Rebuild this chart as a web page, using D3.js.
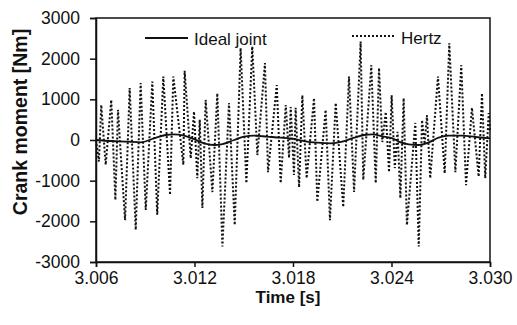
<!DOCTYPE html>
<html><head><meta charset="utf-8">
<script src="https://cdn.jsdelivr.net/npm/d3@7"></script>
<style>
body{margin:0;background:#fff}
svg{display:block}
text{font-family:"Liberation Sans",Arial,Helvetica,sans-serif;fill:#111}
</style>
</head><body>
<svg id="c" width="517" height="325"></svg>
<script>
// ---- data ----
const xTicks = [3.006, 3.012, 3.018, 3.024, 3.030];
const yTicks = [-3000, -2000, -1000, 0, 1000, 2000, 3000];
const seriesNames = ["Ideal joint", "Hertz"];

const idealTime = [3.00600,3.00690,3.00791,3.00872,3.00953,3.01025,3.01075,3.01136,3.01197,3.01258,3.01319,3.01370,3.01441,3.01502,3.01562,3.01643,3.01725,3.01806,3.01867,3.01948,3.02030,3.02100,3.02172,3.02232,3.02283,3.02354,3.02415,3.02444,3.02505,3.02566,3.02627,3.02687,3.02748,3.02829,3.02911,3.03000];
const idealMoment = [0,-25,-40,-57,40,123,140,107,20,-82,-123,-100,0,82,107,82,57,25,-25,-65,-82,-40,57,123,140,82,25,-40,-107,-123,-57,57,107,107,74,40];

const hertzTime = [3.00600,3.00618,3.00632,3.00659,3.00693,3.00718,3.00734,3.00750,3.00777,3.00805,3.00842,3.00872,3.00903,3.00943,3.00973,3.01010,3.01051,3.01071,3.01132,3.01140,3.01177,3.01197,
 3.01217,3.01232,3.01248,3.01268,3.01309,3.01339,3.01370,3.01410,3.01445,3.01481,3.01516,3.01552,3.01583,3.01629,3.01648,3.01701,3.01725,3.01756,3.01776,3.01786,3.01806,
 3.01816,3.01837,3.01857,3.01883,3.01928,3.01948,3.01999,3.02025,3.02060,3.02106,3.02141,3.02172,3.02212,3.02228,3.02277,3.02304,3.02324,3.02344,3.02365,3.02385,3.02401,
 3.02420,3.02437,3.02454,3.02474,3.02494,3.02545,3.02566,3.02586,3.02602,3.02616,3.02636,3.02683,3.02724,3.02752,3.02789,3.02825,3.02854,3.02890,3.02931,3.02951,3.02971,3.02992,3.03000];
const hertzMoment = [0,-530,860,-610,985,-1475,740,-300,-1970,1280,-2210,1400,-1720,1435,-1840,1560,-1350,1560,-610,1700,-450,700,
 -940,500,-1670,985,-1280,1150,-2620,910,-2090,2260,-1060,2300,-370,1890,-790,1350,-1060,860,-440,810,-860,
 790,-1160,1100,-940,1030,-1520,740,-1970,910,-1650,1560,-1280,2420,-980,1840,-1060,1770,-50,690,-790,1100,
 -690,200,-1430,1030,-2090,420,-2620,490,-100,610,-940,1560,-820,2380,-790,1840,-1110,790,-900,1150,-940,660,200];

// ---- chart ----
const svg = d3.select("#c");
const L = 96, R = 490, T = 18, B = 262;
const x = d3.scaleLinear().domain([3.006, 3.030]).range([L, R]);
const y = d3.scaleLinear().domain([-3000, 3000]).range([B, T]);

const ink = "#111";

// Hertz (dotted)
const hertz = hertzTime.map((t, i) => [t, hertzMoment[i]]);
svg.append("path")
  .attr("d", d3.line().x(d => x(d[0])).y(d => y(d[1]))(hertz))
  .attr("fill", "none").attr("stroke", ink)
  .attr("stroke-width", 2).attr("stroke-dasharray", "2,2");

// Ideal joint (solid)
const ideal = idealTime.map((t, i) => [t, idealMoment[i]]);
svg.append("path")
  .attr("d", d3.line().curve(d3.curveMonotoneX).x(d => x(d[0])).y(d => y(d[1]))(ideal))
  .attr("fill", "none").attr("stroke", ink).attr("stroke-width", 1.8);

// frame
svg.append("rect").attr("x", L).attr("y", T).attr("width", R - L).attr("height", B - T)
  .attr("fill", "none").attr("stroke", ink).attr("stroke-width", 1.5);

// axes
const gx = svg.append("g").attr("transform", `translate(0,${B})`)
  .call(d3.axisBottom(x).tickValues(xTicks).tickFormat(d3.format(".3f")).tickSize(5).tickPadding(5));
const gy = svg.append("g").attr("transform", `translate(${L},0)`)
  .call(d3.axisLeft(y).tickValues(yTicks).tickFormat(d => String(d)).tickSize(6).tickPadding(10));
[gx, gy].forEach(g => {
  g.attr("font-family", null).attr("font-size", null);
  g.selectAll("path.domain").attr("stroke", ink).attr("stroke-width", 1.5);
  g.selectAll(".tick line").attr("stroke", ink).attr("stroke-width", 1.5);
  g.selectAll(".tick text").style("font-size", "17.5px").attr("fill", ink);
});

// axis titles
svg.append("text").attr("x", 288).attr("y", 303).attr("text-anchor", "middle")
  .style("font-size", "17px").style("font-weight", "bold").text("Time [s]");
svg.append("text").attr("transform", "translate(27,122) rotate(-90)").attr("text-anchor", "middle")
  .style("font-size", "19.5px").style("font-weight", "bold").text("Crank moment [Nm]");

// legend
svg.append("line").attr("x1", 145).attr("x2", 188).attr("y1", 38).attr("y2", 38)
  .attr("stroke", ink).attr("stroke-width", 1.8);
svg.append("text").attr("x", 194).attr("y", 45).style("font-size", "17px").text(seriesNames[0]);
svg.append("line").attr("x1", 352).attr("x2", 396).attr("y1", 36).attr("y2", 36)
  .attr("stroke", ink).attr("stroke-width", 1.8).attr("stroke-dasharray", "2,2");
svg.append("text").attr("x", 401).attr("y", 44).style("font-size", "17px").text(seriesNames[1]);
</script>
</body></html>
